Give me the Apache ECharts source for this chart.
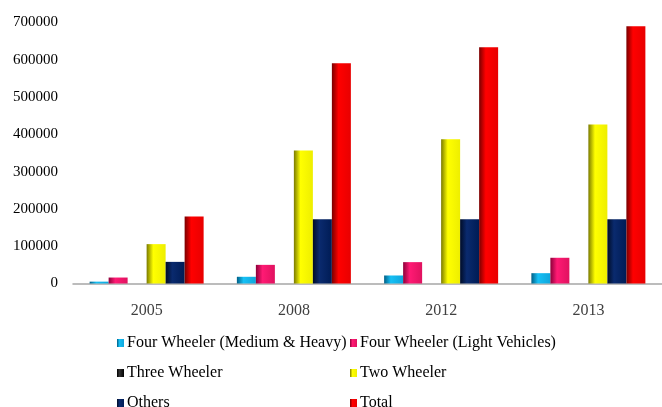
<!DOCTYPE html>
<html>
<head>
<meta charset="utf-8">
<script src="https://cdn.jsdelivr.net/npm/echarts@6/dist/echarts.min.js"></script>
<style>
    html, body { margin: 0; padding: 0; background: #fff; }
    #chart { width: 662px; height: 407px; }
</style>
</head>
<body>
<div id="chart"></div>
<script>
// values
var years = ['2005', '2008', '2012', '2013']
var fourWheelerMH = [5000, 18000, 21500, 27700]
var fourWheelerLV = [16000, 50000, 57300, 69000]
var threeWheeler = [0, 0, 0, 0]
var twoWheeler = [105600, 356700, 387000, 426600]
var others = [58000, 172000, 172000, 172000]
var total = [180000, 590600, 633600, 690000]

var seriesNames = ['Four Wheeler (Medium & Heavy)', 'Four Wheeler (Light Vehicles)', 'Three Wheeler', 'Two Wheeler', 'Others', 'Total']
var seriesData = [fourWheelerMH, fourWheelerLV, threeWheeler, twoWheeler, others, total]
var baseColors = ['#0fb0ec', '#f2146a', '#000000', '#ffff00', '#002060', '#ff0000']
// cylinder-ish shading: dark left edge -> bright -> slightly darker right
var shades = [
    ['#005f86', '#16c0f5', '#0fa6dc'],
    ['#8c0039', '#ff1a74', '#e0125f'],
    ['#000000', '#333333', '#000000'],
    ['#7a7a00', '#ffff00', '#eeee00'],
    ['#000c26', '#0a2a6e', '#001c55'],
    ['#7a0000', '#ff0000', '#e80000']
]

function shade(i) {
    return new echarts.graphic.LinearGradient(0, 0, 1, 0, [
        { offset: 0, color: shades[i][0] },
        { offset: 0.35, color: shades[i][1] },
        { offset: 1, color: shades[i][2] }
    ])
}

var series = seriesNames.map(function (name, i) {
    return {
        name: name,
        type: 'bar',
        barWidth: 19,
        barGap: '0%',
        itemStyle: { color: shade(i) },
        data: seriesData[i]
    }
})

var font = 'Liberation Serif'

function legendCol(names, left) {
    return {
        data: names,
        orient: 'vertical',
        left: left,
        top: 330,
        height: 120,
        itemWidth: 7,
        itemHeight: 8,
        itemGap: 14,
        icon: 'rect',
        textStyle: { fontFamily: font, fontSize: 16, color: '#000', padding: [0, 0, 0, -2] }
    }
}

var chart = echarts.init(document.getElementById('chart'))
chart.setOption({
    animation: false,
    color: baseColors,
    grid: { left: 73, right: -2, top: 22.5, bottom: 123.5 },
    legend: [
        legendCol([seriesNames[0], seriesNames[2], seriesNames[4]], 112),
        legendCol([seriesNames[1], seriesNames[3], seriesNames[5]], 345)
    ],
    xAxis: {
        type: 'category',
        data: years,
        axisLine: { lineStyle: { color: '#a6a6a6', width: 1.5 } },
        axisTick: { show: false },
        axisLabel: { margin: 19, fontFamily: font, fontSize: 16, color: '#404040' }
    },
    yAxis: {
        type: 'value',
        min: 0,
        max: 700000,
        interval: 100000,
        axisLine: { show: false },
        axisTick: { show: false },
        splitLine: { show: false },
        axisLabel: { margin: 15, fontFamily: font, fontSize: 15, color: '#000', formatter: function (v) { return String(v) } }
    },
    series: series
})
</script>
</body>
</html>
